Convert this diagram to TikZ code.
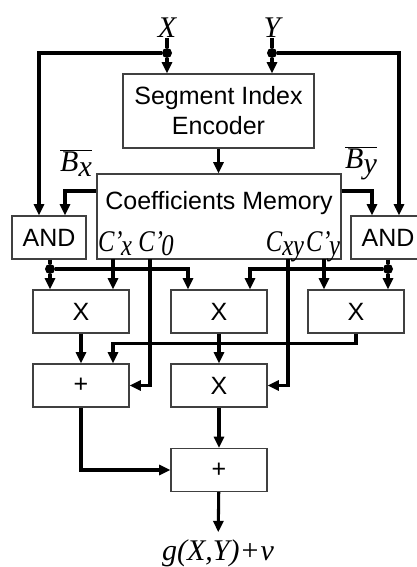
\documentclass[tikz,border=0pt]{standalone}
\usepackage{fontspec}
\setmainfont{Liberation Sans}
\newfontfamily\tms{Liberation Serif}
\usetikzlibrary{arrows.meta, positioning}
\tikzset{
    blk/.style={rectangle, draw=black!75, line width=0.8pt, minimum width=72pt, minimum height=32.25pt, inner sep=0pt, text centered, font=\fontsize{18.75}{22.5}\selectfont},
    sig/.style={line width=2.3pt},
    arrow/.style={-{Triangle[length=8.5pt, width=7.5pt]}, line width=2.3pt},
    lbl/.style={inner sep=0pt, font=\tms\itshape\fontsize{22.5}{24}\selectfont},
    junc/.style={circle, fill=black, minimum size=7.5pt, inner sep=0pt}
}
\newcommand{\coef}[1]{\scalebox{0.82}[1]{C\textquoteright\kern-1.5pt\raisebox{-0.35ex}{#1}}}
\newcommand{\negb}[1]{$\overline{\hbox{B\raisebox{-0.35ex}{#1}}}$}

\begin{document}
\begin{tikzpicture}[x=0.75pt, y=-0.75pt]
    \clip (0,0) rectangle (417,567);

    % inputs
    \node[lbl] (inx) at (167,28) {X};
    \node[lbl] (iny) at (272,28) {Y};
    \node[junc] (jx) at (167,53) {};
    \node[junc] (jy) at (272,53) {};
    \coordinate (lx) at (39,53);
    \coordinate (ry) at (399,53);

    % blocks
    \node[blk, minimum width=143.25pt, minimum height=55.5pt, align=center] (sie) at (218.5,111) {Segment Index\\Encoder};
    \node[blk, minimum width=183pt, minimum height=63.75pt] (cm) at (219,216.5) {};
    \node[font=\fontsize{18.75}{22.5}\selectfont, inner sep=0pt] (cmtxt) at (219,203) {Coefficients Memory};
    \node[blk, minimum width=55.5pt] (andl) at (49,237.5) {AND};
    \node[blk, minimum width=55.5pt] (andr) at (388,237.5) {AND};
    \node[blk] (mulA) at (81,311.5) {X};
    \node[blk] (mulB) at (219,311.5) {X};
    \node[blk] (mulC) at (356,311.5) {X};
    \node[blk] (addA) at (81,385.5) {+};
    \node[blk] (mulD) at (219,385.5) {X};
    \node[blk] (addB) at (219,470) {+};
    \node[lbl, anchor=base] (out) at (218,560) {g(X,Y)\kern1.5pt{\upshape+}\kern1.5pt v};

    % labels
    \node[lbl] (bxl) at (76,163) {\negb{x}};
    \node[lbl] (byl) at (361,163) {\negb{y}};
    \node[lbl, anchor=base] (lcx) at (115,251) {\coef{x}};
    \node[lbl, anchor=base] (lc0) at (156,251) {\coef{0}};
    \node[lbl, anchor=base] (lcxy) at (285,251) {\scalebox{0.82}[1]{C\raisebox{-0.35ex}{xy}}};
    \node[lbl, anchor=base] (lcy) at (323,251) {\coef{y}};

    % coefficient outputs
    \coordinate (ocx) at (113,259);
    \coordinate (oc0) at (150,259);
    \coordinate (ocxy) at (288,259);
    \coordinate (ocy) at (324,259);
    \coordinate (bx) at (65,191);
    \coordinate (by) at (372,191);

    % input wiring
    \draw[sig] (inx) -- (jx);
    \draw[sig] (iny) -- (jy);
    \draw[arrow] (jx) -- (sie.north -| jx);
    \draw[arrow] (jy) -- (sie.north -| jy);
    \draw[arrow] (jx) -| (andl.north -| lx);
    \draw[arrow] (jy) -| (andr.north -| ry);
    \draw[arrow] (sie.south) -- (sie.south |- cm.north);
    \draw[arrow] (cm.west |- bx) -| (andl.north -| bx);
    \draw[arrow] (cm.east |- by) -| (andr.north -| by);

    % AND outputs
    \node[junc] (ja) at (50,269) {};
    \node[junc] (jb) at (388,269) {};
    \draw[sig] (andl.south -| ja) -- (ja);
    \draw[sig] (andr.south -| jb) -- (jb);
    \draw[arrow] (ja) -- (mulA.north -| ja);
    \draw[arrow] (jb) -- (mulC.north -| jb);
    \draw[arrow] (ja) -| ([xshift=-23.25pt]mulB.north);
    \draw[arrow] (jb) -| ([xshift=23.25pt]mulB.north);

    % coefficients
    \draw[arrow] (ocx) -- (mulA.north -| ocx);
    \draw[arrow] (ocy) -- (mulC.north -| ocy);
    \draw[arrow] (oc0) |- (addA.east);
    \draw[arrow] (ocxy) |- (mulD.east);

    % datapath
    \draw[arrow] (mulA) -- (addA);
    \draw[arrow] (mulB) -- (mulD);
    \draw[arrow] (mulC.south) -- ++(0,10) -| ([xshift=24pt]addA.north);
    \draw[arrow] (addA.south) |- (addB.west);
    \draw[arrow] (mulD) -- (addB);
    \draw[arrow, shorten >=5pt] (addB) -- (out);
\end{tikzpicture}
\end{document}
